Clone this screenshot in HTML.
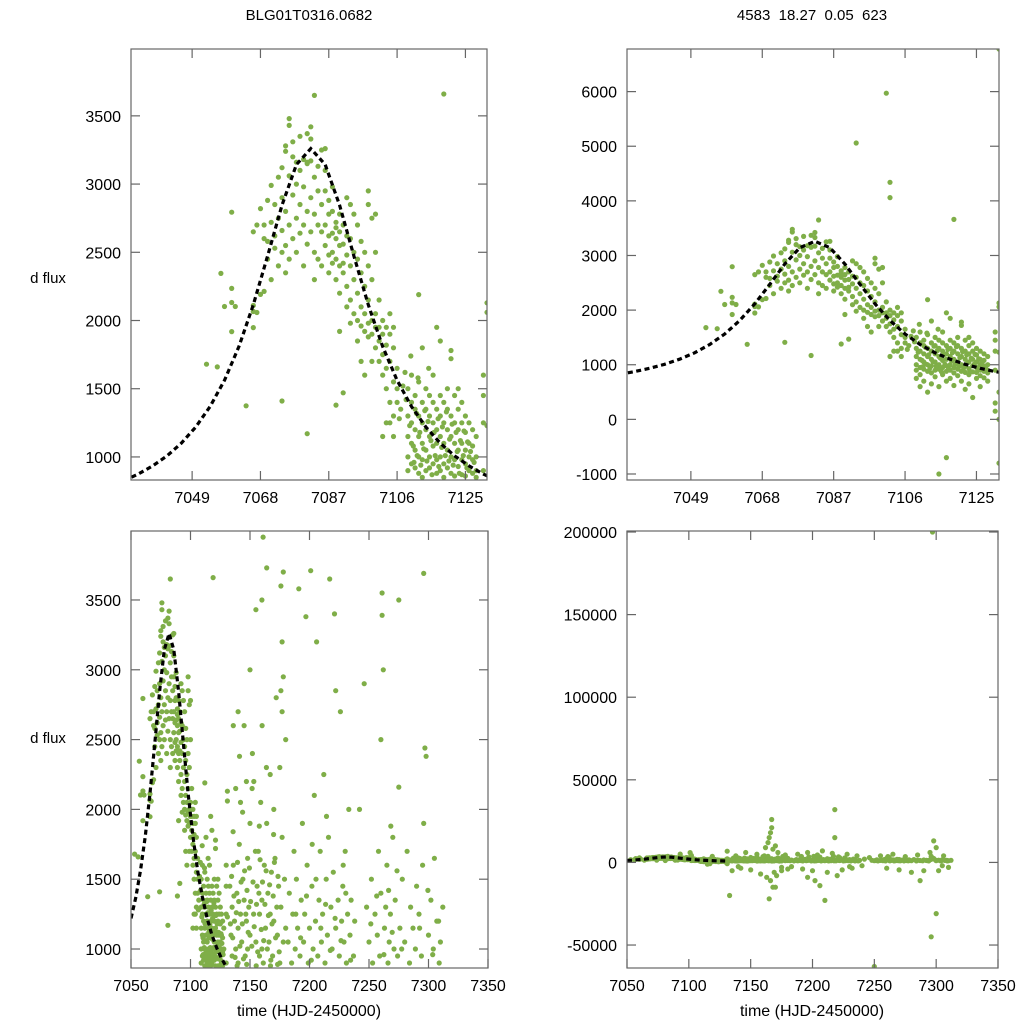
<!DOCTYPE html>
<html><head><meta charset="utf-8">
<style>
html,body{margin:0;padding:0;background:#fff;width:1024px;height:1024px;overflow:hidden;}
svg{display:block;font-family:"Liberation Sans",sans-serif;}
</style></head>
<body>
<svg id="chart" width="1024" height="1024" viewBox="0 0 1024 1024">
<rect width="1024" height="1024" fill="#fff"/>
<text x="309" y="20" font-size="15" text-anchor="middle">BLG01T0316.0682</text>
<text x="812" y="20" font-size="15" text-anchor="middle" xml:space="preserve">4583  18.27  0.05  623</text>
<text x="48" y="283" font-size="15" text-anchor="middle">d flux</text>
<text x="48" y="743" font-size="15" text-anchor="middle">d flux</text>
<text x="309" y="1016" font-size="16" text-anchor="middle">time (HJD-2450000)</text>
<text x="812" y="1016" font-size="16" text-anchor="middle">time (HJD-2450000)</text>
</svg>
<script>
// ---- data ----
const curveTime = [7030,7034,7038,7042,7046,7050,7054,7058,7062,7066,7070,7074,7078,7082,7086,7090,7094,7098,7102,7106,7110,7114,7118,7122,7126,7130,7134];
const curveFlux = [825,874,934,1008,1101,1219,1370,1562,1809,2115,2473,2845,3143,3260,3143,2845,2473,2115,1809,1562,1370,1219,1101,1008,934,874,825];

const riseObs = [[7053,1680],[7056,1660],[7057,2345],[7058,2103],[7060,2132],[7060,2235],[7061,2103],[7060,1919],[7060,2794],[7064,1375],[7066,2110],[7066,2066],[7067,2059],[7066,1948],[7068,2191],[7069,2213],[7066,2650],[7067,2700],[7068,2820],[7069,2600],[7069,2700],[7070,2880],[7070,2580],[7070,2450],[7071,2300],[7071,2990],[7071,2720],[7072,2850],[7072,2620],[7072,2530],[7073,3050],[7073,2750],[7073,2400],[7074,1410],[7074,3120],[7074,2900],[7074,2660],[7074,2500],[7075,3280],[7075,3240],[7075,2800],[7075,2550],[7075,2350],[7076,3480],[7076,3430],[7076,3060],[7076,2700],[7076,2450],[7077,3310],[7077,3200],[7077,2920],[7077,2600],[7078,3160],[7078,3000],[7078,2750],[7078,2500],[7079,3350],[7079,3100],[7079,2850],[7079,2640],[7080,3180],[7080,2980],[7080,2700],[7080,2400],[7081,3370],[7081,3150],[7081,3160],[7081,2800],[7081,2560],[7081,1170],[7082,3420],[7082,3330],[7082,3170],[7082,2900],[7082,2650],[7083,3650],[7083,3050],[7083,2780],[7083,2500],[7083,2300],[7084,3130],[7084,2950],[7084,2700],[7084,2450],[7085,3250],[7085,2850],[7085,2650],[7085,2400],[7086,3260],[7086,3100],[7086,2950],[7086,2700],[7086,2550],[7087,2880],[7087,2780],[7087,2620],[7087,2480],[7087,2350],[7088,2980],[7088,2800],[7088,2640],[7088,2500],[7088,2420],[7089,2720],[7089,2600],[7089,2450],[7089,2300],[7089,2680],[7090,2780],[7090,2650],[7090,2550],[7090,2400],[7090,2200],[7091,2700],[7091,2560],[7091,2420],[7091,2350],[7092,2900],[7092,2620],[7092,2480],[7092,2250],[7092,2100],[7093,2850],[7093,2600],[7093,2400],[7093,2150],[7093,1980],[7094,2780],[7094,2500],[7094,2300],[7094,2050],[7095,2700],[7095,2450],[7095,2200],[7095,2000],[7095,1850],[7096,2580],[7096,2350],[7096,2100],[7096,1960],[7097,2500],[7097,2250],[7097,2050],[7097,1920],[7098,2950],[7098,2850],[7098,2400],[7098,2150],[7098,1980],[7098,1880],[7099,2750],[7099,2300],[7099,2000],[7099,1900],[7099,1700],[7100,2780],[7100,2500],[7100,2050],[7100,1950],[7100,1800],[7090,1920],[7091,1470],[7089,1380],[7096,1700],[7097,1600]];

const declineObs = [[7101,2150],[7101,1950],[7101,1850],[7101,1700],[7102,2000],[7102,1900],[7102,1750],[7102,1600],[7103,1950],[7103,1820],[7103,1650],[7103,1500],[7104,2050],[7104,1900],[7104,1700],[7104,1400],[7104,1250],[7105,1950],[7105,1800],[7105,1550],[7105,1300],[7105,1150],[7106,1650],[7106,1500],[7106,1400],[7103,1250],[7102,1150],[7107,1350],
[7109,1500],[7109,1300],[7109,1150],[7109,1000],[7109,900],[7109,750],
[7110,1600],[7110,1400],[7110,1250],[7110,1100],[7110,950],[7110,820],[7110,600],
[7111,1450],[7111,1350],[7111,1200],[7111,1050],[7111,920],[7111,700],
[7112,2190],[7112,1550],[7112,1300],[7112,1150],[7112,1000],[7112,880],[7112,500],
[7113,1800],[7113,1400],[7113,1250],[7113,1100],[7113,980],[7113,850],[7113,650],
[7114,1500],[7114,1350],[7114,1200],[7114,1050],[7114,900],[7114,780],
[7115,1450],[7115,1300],[7115,1150],[7115,1000],[7115,920],[7115,-1000],[7115,600],
[7116,1600],[7116,1400],[7116,1250],[7116,1080],[7116,950],[7116,820],
[7117,1950],[7117,1350],[7117,1200],[7117,1100],[7117,980],[7117,880],[7117,-700],[7117,700],
[7118,1850],[7118,1450],[7118,1300],[7118,1150],[7118,1000],[7118,900],[7118,750],
[7119,3660],[7119,1400],[7119,1250],[7119,1100],[7119,950],[7119,850],[7119,620],
[7120,1500],[7120,1350],[7120,1200],[7120,1050],[7120,920],[7120,800],
[7121,1780],[7121,1720],[7121,1300],[7121,1150],[7121,1000],[7121,880],[7121,700],
[7122,1450],[7122,1250],[7122,1100],[7122,980],[7122,860],[7122,550],
[7123,1500],[7123,1350],[7123,1200],[7123,1050],[7123,930],[7123,820],[7123,650],
[7124,1400],[7124,1250],[7124,1100],[7124,980],[7124,870],[7124,400],
[7125,1300],[7125,1180],[7125,1050],[7125,950],[7125,860],[7125,750],
[7126,1250],[7126,1100],[7126,1000],[7126,900],[7126,800],[7126,600],
[7127,1200],[7127,1080],[7127,980],[7127,880],[7127,760],
[7128,1150],[7128,1000],[7128,900],[7128,850],[7128,700],
[7130,1600],[7130,1450],[7130,1250],[7130,900],[7130,300],[7130,150],
[7131,6780],[7131,2130],[7131,2060],[7131,1230],[7131,-800],[7131,500],[7131,0],
[7093,5060],[7101,5970],[7102,4340],[7102,4060]];

const denseObs = [[7108.5,1420],[7109.5,1230],[7110.5,1080],[7110.7,960],[7111.4,1320],[7111.6,1010],[7112.3,1180],[7112.6,940],[7113.4,1060],[7113.7,1340],[7114.3,970],[7114.6,1260],[7115.4,1120],[7115.7,870],[7116.3,1180],[7116.6,1010],[7117.4,1280],[7117.6,930],[7118.4,1070],[7118.6,1220],[7119.4,1010],[7119.7,1330],[7120.4,970],[7120.6,1130],[7121.3,1240],[7121.6,940],[7122.4,1180],[7122.7,1040],[7123.3,880],[7123.6,1120],[7124.4,1010],[7124.6,1190],[7125.4,920],[7125.6,1110],[7126.4,1040],[7127.4,960],[7108.2,1620],[7109.8,1740],[7107.6,1520],[7106.6,1280],[7111.8,1580],[7114.8,1650],
[7133.5,1180],[7134.5,1520],[7135.5,1080],[7136.5,1380],[7137.5,940],[7138.5,1260],[7139.5,1620],[7140.5,1340],[7141.5,1020],[7142.5,1480],[7143.5,1180],[7144.5,930],[7145.5,1560],[7146.5,1250],[7147.5,1420],[7148.5,1120],[7149.5,1580],[7150.5,1340],[7151.5,1020],[7152.5,1480],[7153.5,1160],[7154.5,1700],[7155.5,1320],[7156.5,980],[7157.5,1400],[7158.5,1640],[7159.5,1140],[7160.5,1480],[7161.5,1060],[7162.5,1320],[7163.5,1560],[7164.5,1000],[7165.5,1240],[7166.5,1460],[7167.5,920],[7168.5,1180],[7169.5,1380],[7170.5,1620],[7171.5,1080],[7172.5,1300],[7173.5,1520],[7174.5,980],[7135.8,1840],[7143.8,1980],[7151.8,2150],[7157.8,1880],[7163.8,2300],[7169.8,1820],[7139.2,880],[7147.2,890],[7155.2,880],[7161.2,900],[7167.2,880],[7173.2,890],[7141.2,2380],[7153.2,2200],[7160.2,2600],
[7188.5,1250],[7192.5,1080],[7197.5,1380],[7201.5,920],[7205.5,1500],[7209.5,1150],[7213.5,1320],[7217.5,990],[7221.5,1220],[7226.5,1060],[7230.5,1400],[7234.5,920],[7202.3,1750],[7214.3,1950],[7228.3,1600],
[7251.5,1180],[7256.5,1380],[7262.5,960],[7266.5,1420],[7269.5,1120],[7273.5,1560],[7277.5,1000],[7268.3,1880],[7292.5,1150],[7299.5,1420],[7303.5,960],[7308.5,1200]];

const lateObs = [[7133,1450],[7134,1100],[7135,1300],[7135,950],[7136,1600],[7137,1200],[7138,1000],[7139,1400],[7140,1150],[7140,900],[7141,1750],[7142,1250],[7143,1050],[7144,1500],[7145,1350],[7146,950],[7147,1200],[7148,1650],[7148,1000],[7149,1300],[7150,1100],[7150,1900],[7138,2150],[7142,2050],[7145,2600],[7147,2200],[7136,2600],[7140,2700],[7152,2400],[7155,3430],[7153,1250],[7155,1050],[7156,1450],[7157,1700],[7158,950],[7158,1250],[7159,2050],[7160,1350],[7160,1000],[7161,3950],[7162,1600],[7163,1150],[7164,3730],[7164,1900],[7165,1400],[7166,1050],[7167,2250],[7167,1250],[7168,1550],[7169,950],[7170,2000],[7170,1200],[7171,1650],[7172,2800],[7173,1100],[7174,1450],[7175,2300],[7175,900],[7176,1300],[7177,1800],[7178,1050],[7179,1500],[7180,2500],[7180,1150],[7178,3700],[7176,3600],[7177,3200],[7176,2850],[7177,2700],[7178,2950],
[7182,1050],[7183,1400],[7185,900],[7186,1250],[7187,1700],[7188,1000],[7189,1500],[7190,1150],[7191,3580],[7192,950],[7193,1350],[7194,1900],[7195,1050],[7196,1250],[7197,3380],[7198,1600],[7199,900],[7200,1150],[7201,3710],[7202,1450],[7203,1000],[7204,2100],[7205,1200],[7206,3200],[7207,950],[7208,1350],[7209,1700],[7210,1050],[7211,1250],[7212,2250],[7213,900],[7214,1500],[7215,1100],[7216,1800],[7217,3650],[7218,1300],[7219,1000],[7220,1550],[7221,3400],[7222,2850],[7222,1150],[7224,1350],[7225,950],[7226,2700],[7227,1200],[7228,1450],[7229,1050],[7230,1700],[7231,900],[7232,1250],[7233,2000],[7234,1100],[7235,1350],[7237,950],[7238,1200],
[7246,2900],[7248,1300],[7250,1050],[7252,1500],[7253,900],[7255,1250],[7257,1100],[7258,1700],[7259,950],[7260,1400],[7261,3550],[7261,3390],[7262,3000],[7263,1150],[7264,1300],[7265,1600],[7266,900],[7267,1050],[7268,1250],[7270,1800],[7271,1000],[7272,1350],[7274,950],[7275,2160],[7276,1150],[7278,1500],[7280,1050],[7282,1700],[7284,900],[7285,1300],[7287,1150],[7289,1000],[7290,1450],[7292,1250],[7294,950],[7295,1600],[7296,1900],[7297,2440],[7298,2380],[7296,3690],[7300,1100],[7302,1350],[7304,1000],[7305,1650],[7307,1200],[7309,900],[7310,1050],[7312,1300]];

const spreadObs = [[7135,-5000],[7138,4000],[7142,-3500],[7146,6000],[7150,-4500],[7155,5000],[7158,-7000],[7162,9000],[7163,-9000],[7164,12000],[7165,15000],[7166,-11000],[7166,18000],[7167,26000],[7167,21000],[7168,-15000],[7168,8000],[7169,-6000],[7170,10000],[7171,-8000],[7172,6000],[7175,-5000],[7178,4500],[7180,-4000],[7165,-22000],[7133,-20000],[7170,-15000],[7188,5000],[7192,-4000],[7196,6000],[7200,-5000],[7204,4500],[7206,-14000],[7208,7000],[7212,-6000],[7216,5500],[7218,32000],[7218,15000],[7220,-8000],[7224,-4500],[7228,5000],[7232,-3500],[7236,4000],[7210,-23000],[7196,-9000],[7202,-11000],[7255,4000],[7260,-3500],[7265,5000],[7270,-4500],[7275,3500],[7280,-6000],[7285,4500],[7290,-5000],[7295,6000],[7297,200000],[7296,-45000],[7300,-31000],[7298,13000],[7300,9000],[7302,-5000],[7306,4000],[7310,-3000],[7250,-63000],[7287,-11000],[7240,-2000],[7242,2000],[7175,-3000],[7160,3500],[7140,-2500],[7183,-2500],[7230,-2500],[7260,2500],[7305,-2000],[7150,3000]];

const xTicksZoom = [7049,7068,7087,7106,7125];
const xTicksFull = [7050,7100,7150,7200,7250,7300,7350];
const yTicksTL = [1000,1500,2000,2500,3000,3500];
const yTicksTR = [-1000,0,1000,2000,3000,4000,5000,6000];
const yTicksBL = [1000,1500,2000,2500,3000,3500];
const yTicksBR = [-50000,0,50000,100000,150000,200000];

// ---- layout ----
const panels = [
 {id:'tl', x0:131,x1:487,y0:49,y1:480, xd:[7032,7131], yd:[831,3990], xt:xTicksZoom, yt:yTicksTL, cmin:-1e9, cmax:1e9},
 {id:'tr', x0:627,x1:999,y0:49,y1:480, xd:[7032,7131], yd:[-1110,6780], xt:xTicksZoom, yt:yTicksTR, cmin:-1e9, cmax:1e9},
 {id:'bl', x0:131,x1:488,y0:531,y1:968, xd:[7050,7350], yd:[864,3994], xt:xTicksFull, yt:yTicksBL, cmin:7050, cmax:7130},
 {id:'br', x0:627,x1:998,y0:531,y1:968, xd:[7050,7350], yd:[-63900,200600], xt:xTicksFull, yt:yTicksBR, cmin:7050, cmax:7130}
];
const NS='http://www.w3.org/2000/svg';
const svg=document.getElementById('chart');
const allObs = riseObs.concat(declineObs, denseObs, lateObs, spreadObs);
function mk(tag,attrs,parent){const e=document.createElementNS(NS,tag);for(const k in attrs)e.setAttribute(k,attrs[k]);(parent||svg).appendChild(e);return e;}
const defs=mk('defs',{});
panels.forEach(p=>{
  const sx=v=>p.x0+(v-p.xd[0])/(p.xd[1]-p.xd[0])*(p.x1-p.x0);
  const sy=v=>p.y1-(v-p.yd[0])/(p.yd[1]-p.yd[0])*(p.y1-p.y0);
  const cp=mk('clipPath',{id:'clip-'+p.id},defs);
  mk('rect',{x:p.x0,y:p.y0,width:p.x1-p.x0,height:p.y1-p.y0},cp);
  const g=mk('g',{});
  
  
  const pg=mk('g',{'clip-path':'url(#clip-'+p.id+')',fill:'#7fae48'},g);
  
  
  allObs.forEach(o=>{
    if(o[0]<p.xd[0]||o[0]>p.xd[1]||o[1]<p.yd[0]||o[1]>p.yd[1]) return;
    const c=mk('circle',{cx:sx(o[0]).toFixed(1),cy:sy(o[1]).toFixed(1),r:2.6},pg);
    
    
  });
  const pts=[];
  curveTime.forEach((t,i)=>{ if(t>=p.cmin && t<=p.cmax) pts.push(sx(t).toFixed(1)+','+sy(curveFlux[i]).toFixed(1)); });
  const cl=mk('polyline',{points:pts.join(' '),fill:'none',stroke:'#000','stroke-width':3.2,'stroke-dasharray':'5,3.5','clip-path':'url(#clip-'+p.id+')'},g);
  
  
  const fr=mk('rect',{x:p.x0,y:p.y0,width:p.x1-p.x0,height:p.y1-p.y0,fill:'none',stroke:'#666','stroke-width':1.2},g);
  
  
  p.xt.forEach(v=>{
    const x=sx(v);
    mk('line',{x1:x,x2:x,y1:p.y1,y2:p.y1-9,stroke:'#666','stroke-width':1.2},g);
    mk('line',{x1:x,x2:x,y1:p.y0,y2:p.y0+9,stroke:'#666','stroke-width':1.2},g);
    const t=mk('text',{x:x,y:p.y1+23,'font-size':16,'text-anchor':'middle',fill:'#000'},g);
    t.textContent=v;
    
    
  });
  p.yt.forEach(v=>{
    const y=sy(v);
    mk('line',{x1:p.x0,x2:p.x0+9,y1:y,y2:y,stroke:'#666','stroke-width':1.2},g);
    mk('line',{x1:p.x1,x2:p.x1-9,y1:y,y2:y,stroke:'#666','stroke-width':1.2},g);
    const t=mk('text',{x:p.x0-10,y:y+6,'font-size':16,'text-anchor':'end',fill:'#000'},g);
    t.textContent=v;
    
    
  });
});
</script>
</body></html>
